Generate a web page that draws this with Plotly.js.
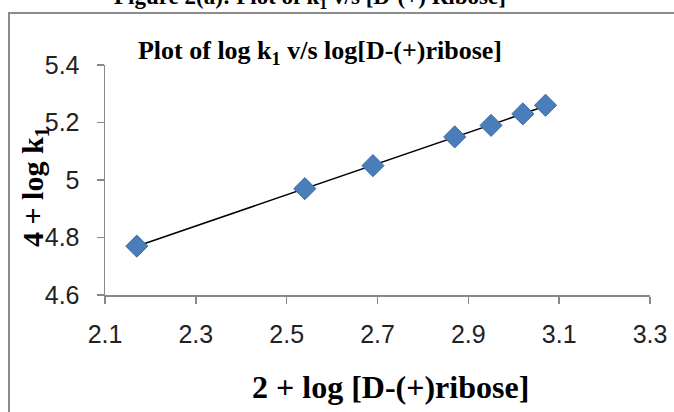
<!DOCTYPE html>
<html>
<head>
<meta charset="utf-8">
<script src="https://cdn.plot.ly/plotly-3.0.1.min.js"></script>
<style>html,body{margin:0;padding:0;background:#fff;}#chart{width:674px;height:412px;}</style>
</head>
<body>
<div id="chart"></div>
<script>
const xValues = [2.17, 2.54, 2.69, 2.87, 2.95, 3.02, 3.07];
const yValues = [4.77, 4.97, 5.05, 5.15, 5.19, 5.23, 5.26];
const xTicks = [2.1, 2.3, 2.5, 2.7, 2.9, 3.1, 3.3];
const yTicks = [4.6, 4.8, 5.0, 5.2, 5.4];
const yTickText = ['4.6', '4.8', '5', '5.2', '5.4'];

// least-squares trendline from data
const n = xValues.length;
const mx = xValues.reduce((a, b) => a + b, 0) / n;
const my = yValues.reduce((a, b) => a + b, 0) / n;
let sxy = 0, sxx = 0;
for (let i = 0; i < n; i++) { sxy += (xValues[i] - mx) * (yValues[i] - my); sxx += (xValues[i] - mx) ** 2; }
const slope = sxy / sxx, icpt = my - slope * mx;
const xMin = Math.min(...xValues), xMax = Math.max(...xValues);
const trendX = [xMin, xMax];
const trendY = trendX.map(v => icpt + slope * v);

const W = 674, H = 412, L = 105, R = 24, T = 65, B = 117;
const pw = W - L - R, ph = H - T - B;
const px = p => (p - L) / pw;
const py = p => (H - B - p) / ph;

const tickFont = {family: 'Liberation Sans Narrow, Arial Narrow, Liberation Sans, sans-serif', size: 25, color: '#222'};
const serifBold = 'Liberation Serif, Times New Roman, serif';

const data = [
  {x: trendX, y: trendY, type: 'scatter', mode: 'lines', line: {color: '#000', width: 1.5}, hoverinfo: 'skip'},
  {x: xValues, y: yValues, type: 'scatter', mode: 'markers',
   marker: {symbol: 'diamond', size: 17, color: '#4a7ebb', line: {color: '#3b6aa6', width: 1}}}
];

const layout = {
  width: W, height: H,
  margin: {l: L, r: R, t: T, b: B},
  paper_bgcolor: '#fff', plot_bgcolor: '#fff',
  showlegend: false,
  xaxis: {range: [2.1, 3.3], tickvals: xTicks, ticktext: xTicks.map(v => v.toFixed(1)),
          showgrid: false, zeroline: false, showline: true, linecolor: '#888', linewidth: 1.5,
          ticks: 'outside', ticklen: 7, tickcolor: '#888', tickwidth: 1.5, tickfont: tickFont, ticklabelstandoff: 9},
  yaxis: {range: [4.6, 5.4], tickvals: yTicks, ticktext: yTickText,
          showgrid: false, zeroline: false, showline: true, linecolor: '#888', linewidth: 1.5,
          ticks: 'outside', ticklen: 7, tickcolor: '#888', tickwidth: 1.5, tickfont: tickFont, ticklabelstandoff: 12},
  title: {text: 'Plot of log k<sub>1</sub> v/s log[D-(+)ribose]', font: {family: serifBold, size: 26, color: '#000', weight: 'bold'},
          x: 320 / W, xanchor: 'center', y: 1 - 50 / H, yanchor: 'middle', xref: 'container', yref: 'container'},
  shapes: [
    {type: 'rect', xref: 'paper', yref: 'paper', x0: px(9), x1: px(720), y0: py(460), y1: py(13),
     line: {color: '#8c8c8c', width: 2}, fillcolor: 'rgba(0,0,0,0)', layer: 'below'}
  ],
  annotations: [
    {text: '<b>Figure 2(a): Plot of k<sub>1</sub> v/s [D-(+) Ribose]</b>', xref: 'paper', yref: 'paper',
     x: px(310), y: py(-2), xanchor: 'center', yanchor: 'middle', showarrow: false,
     font: {family: serifBold, size: 23, color: '#000'}},
    {text: '<b>4 + log k<sub>1</sub></b>', xref: 'paper', yref: 'paper', x: px(35), y: py(187),
     xanchor: 'center', yanchor: 'middle', textangle: -90, showarrow: false,
     font: {family: serifBold, size: 30, color: '#000'}},
    {text: '<b>2 + log [D-(+)ribose]</b>', xref: 'paper', yref: 'paper', x: px(390), y: py(387),
     xanchor: 'center', yanchor: 'middle', showarrow: false,
     font: {family: serifBold, size: 32, color: '#000'}}
  ]
};

Plotly.newPlot('chart', data, layout, {displayModeBar: false, staticPlot: true});
</script>
</body>
</html>
